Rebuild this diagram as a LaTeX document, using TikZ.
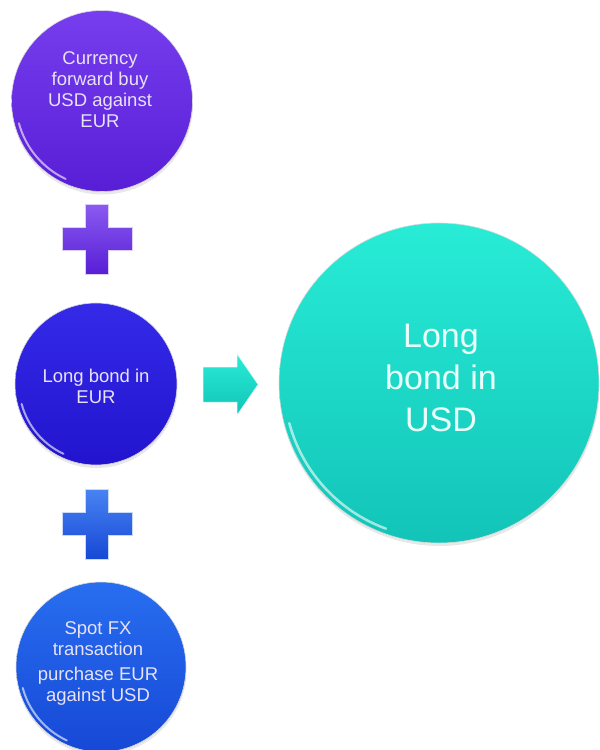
\documentclass[tikz,border=0pt]{standalone}
\usepackage{fontspec}
\setmainfont{Liberation Sans}
\usetikzlibrary{shadows}
\definecolor{pA}{RGB}{118,62,238}
\definecolor{pAd}{RGB}{88,30,214}
\definecolor{pB}{RGB}{52,42,232}
\definecolor{pBd}{RGB}{34,20,206}
\definecolor{pC}{RGB}{40,110,240}
\definecolor{pCd}{RGB}{22,72,214}
\definecolor{tq}{RGB}{40,236,214}
\definecolor{tqd}{RGB}{18,196,184}
\definecolor{txtL}{RGB}{232,226,246}
\definecolor{txtT}{RGB}{232,255,250}
\tikzset{
  ball/.style={circle, inner sep=0pt, draw=white!85!black, line width=0.6pt,
    drop shadow={opacity=0.18, shadow xshift=0.5pt, shadow yshift=-3pt}},
  btntext/.style={align=center, text=txtL, inner sep=0pt,
    font=\fontsize{18.5}{21}\selectfont},
  bigtext/.style={align=center, text=txtT, inner sep=0pt,
    font=\fontsize{34}{42}\selectfont},
  gloss/.style={white, opacity=0.6, line width=2pt, line cap=round},
  pics/plussign/.style n args={2}{code={
    \shade[top color=#1, bottom color=#2, draw=white!70!#1, line width=0.6pt]
      (-11.5,-35) -- ++(23,0) -- ++(0,23.5) -- ++(23.5,0) -- ++(0,23)
      -- ++(-23.5,0) -- ++(0,23.5) -- ++(-23,0) -- ++(0,-23.5) -- ++(-23.5,0)
      -- ++(0,-23) -- ++(23.5,0) -- cycle;
  }},
}
\begin{document}
\begin{tikzpicture}[x=1pt,y=-1pt]
\useasboundingbox (0,0) rectangle (600,750);

% left column circles
\node[ball, minimum size=181, top color=pA, bottom color=pAd] (fwd) at (102,101) {};
\draw[gloss] (fwd.center) ++(165:86) arc[start angle=165, end angle=115, radius=86];
\node[btntext] (fwdtext) at (100,90) {Currency\\forward buy\\USD against\\EUR};

\pic at (97,239) {plussign={pA!85!white}{pAd}};

\node[ball, minimum size=162, top color=pB, bottom color=pBd] (eur) at (96,384) {};
\draw[gloss] (eur.center) ++(165:77) arc[start angle=165, end angle=115, radius=77];
\node[btntext] (eurtext) at (96,386) {Long bond in\\EUR};

\pic at (97,524) {plussign={pC!85!white}{pCd}};

\node[ball, minimum size=170, top color=pC, bottom color=pCd] (spot) at (101,667) {};
\draw[gloss] (spot.center) ++(165:81) arc[start angle=165, end angle=115, radius=81];
\node[btntext] (spottext) at (98,663) {Spot FX\\transaction\\[4pt]purchase EUR\\against USD};

% arrow
\coordinate (arr) at (203,384.5);
\shade[top color=tq, bottom color=tqd, draw=white!80!tq, line width=0.5pt]
  (arr) ++(0,-17.5) -- ++(34,0) -- ++(0,-13) -- ++(21,30.5) -- ++(-21,30.5)
  -- ++(0,-13) -- ++(-34,0) -- cycle;

% big circle
\node[ball, minimum size=320, top color=tq, bottom color=tqd] (usd) at (439,383) {};
\draw[gloss, line width=2.5pt] (usd.center) ++(165:155) arc[start angle=165, end angle=110, radius=155];
\node[bigtext] (usdtext) at (441,378) {Long\\bond in\\USD};
\end{tikzpicture}
\end{document}
